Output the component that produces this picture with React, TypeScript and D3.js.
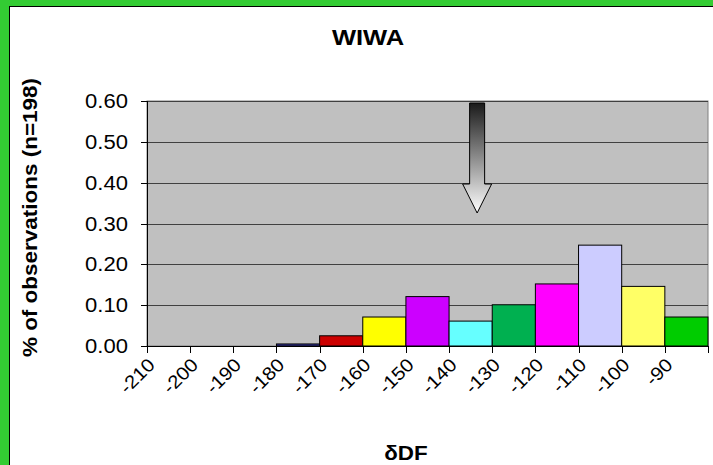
import React, { useEffect, useRef } from "react";
import * as d3 from "d3";

const binLabels = ["-210", "-200", "-190", "-180", "-170", "-160", "-150", "-140", "-130", "-120", "-110", "-100", "-90"];
const binStarts = [-210, -200, -190, -180, -170, -160, -150, -140, -130, -120, -110, -100, -90];
const values = [0, 0, 0, 0.005, 0.025, 0.071, 0.121, 0.061, 0.101, 0.152, 0.247, 0.146, 0.071];
const barColors = ["#333399", "#333399", "#333399", "#333399", "#CC0000", "#FFFF00", "#CC00FF", "#66FFFF", "#00B050", "#FF00FF", "#CCCCFF", "#FFFF66", "#00CC00"];
const yTicks = [0, 0.1, 0.2, 0.3, 0.4, 0.5, 0.6];
const arrowAt = -133.5;

const FONT = "Liberation Sans, Arial, sans-serif";

export default function App() {
  const ref = useRef<SVGSVGElement>(null);
  useEffect(() => {
    const svg = d3.select(ref.current);
    svg.selectAll("*").remove();
    const W = 713, H = 465;
    const L = 147, R = 708, T = 101, B = 346;
    const x = d3.scaleLinear().domain([-210, -80]).range([L, R]);
    const y = d3.scaleLinear().domain([0, 0.6]).range([B, T]);

    const defs = svg.append("defs");
    const grad = defs.append("linearGradient").attr("id", "ag").attr("x1", 0).attr("y1", 0).attr("x2", 0).attr("y2", 1);
    grad.append("stop").attr("offset", "0%").attr("stop-color", "#1a1a1a");
    grad.append("stop").attr("offset", "100%").attr("stop-color", "#ffffff");

    svg.append("rect").attr("x", 0).attr("y", 0).attr("width", W).attr("height", H).attr("fill", "#fff");
    svg.append("rect").attr("x", 0).attr("y", 0).attr("width", W).attr("height", 6).attr("fill", "#33CC33");
    svg.append("rect").attr("x", 0).attr("y", 0).attr("width", 9).attr("height", H).attr("fill", "#33CC33");
    svg.append("line").attr("x1", 9.5).attr("x2", 9.5).attr("y1", 6).attr("y2", H).attr("stroke", "#000");
    svg.append("line").attr("x1", 9).attr("x2", W).attr("y1", 6.5).attr("y2", 6.5).attr("stroke", "#000");

    // plot area
    svg.append("rect").attr("x", L).attr("y", T).attr("width", R - L).attr("height", B - T)
      .attr("fill", "#C0C0C0").attr("stroke", "#808080").attr("stroke-width", 1);

    // gridlines
    svg.append("g").selectAll("line").data(yTicks.filter(d => d > 0)).join("line")
      .attr("x1", L).attr("x2", R)
      .attr("y1", d => Math.round(y(d)) + 0.5).attr("y2", d => Math.round(y(d)) + 0.5)
      .attr("stroke", "#404040").attr("stroke-width", 1);

    // bars
    svg.append("g").selectAll("rect").data(values.map((v, i) => ({ v, s: binStarts[i], c: barColors[i] })).filter(d => d.v > 0))
      .join("rect")
      .attr("x", d => x(d.s)).attr("width", d => x(d.s + 10) - x(d.s))
      .attr("y", d => y(d.v)).attr("height", d => y(0) - y(d.v))
      .attr("fill", d => d.c).attr("stroke", "#000").attr("stroke-width", 1);

    // y axis
    const ya = svg.append("g");
    ya.append("line").attr("x1", L + 0.5).attr("x2", L + 0.5).attr("y1", T).attr("y2", B).attr("stroke", "#000");
    ya.selectAll("line.t").data(yTicks).join("line").attr("class", "t")
      .attr("x1", L - 6).attr("x2", L)
      .attr("y1", d => Math.round(y(d)) + 0.5).attr("y2", d => Math.round(y(d)) + 0.5).attr("stroke", "#000");
    ya.selectAll("text").data(yTicks).join("text")
      .attr("transform", d => `translate(128,${y(d) + 7}) scale(1.13,1)`)
      .attr("text-anchor", "end").attr("font-family", FONT).attr("font-size", 19.5)
      .text(d => d3.format(".2f")(d));

    // x axis
    const xa = svg.append("g");
    xa.append("line").attr("x1", L).attr("x2", R).attr("y1", B + 0.5).attr("y2", B + 0.5).attr("stroke", "#000");
    const tickVals = binStarts.concat([-80]);
    xa.selectAll("line.t").data(tickVals).join("line").attr("class", "t")
      .attr("x1", d => Math.round(x(d)) + 0.5).attr("x2", d => Math.round(x(d)) + 0.5)
      .attr("y1", B).attr("y2", B + 7).attr("stroke", "#000");
    xa.selectAll("text").data(binLabels).join("text")
      .attr("transform", (d, i) => `translate(${x(binStarts[i]) + 9},${B + 20}) rotate(-45) scale(1.1,1)`)
      .attr("text-anchor", "end")
      .attr("font-family", FONT).attr("font-size", 18.5)
      .text(d => d);

    // arrow
    const ax = x(arrowAt);
    const aTop = 103, aNeck = 184, aTip = 213, sw = 7.5, hw = 14.5;
    const pts: [number, number][] = [
      [ax - sw, aTop], [ax + sw, aTop], [ax + sw, aNeck], [ax + hw, aNeck], [ax, aTip], [ax - hw, aNeck], [ax - sw, aNeck]
    ];
    svg.append("path").attr("d", d3.line()(pts) + "Z")
      .attr("fill", "url(#ag)").attr("stroke", "#000").attr("stroke-width", 1);

    // titles
    svg.append("text").attr("transform", "translate(368,45) scale(1.16,1)").attr("text-anchor", "middle")
      .attr("font-family", FONT).attr("font-weight", "bold").attr("font-size", 22)
      .text("WIWA");
    svg.append("text").attr("transform", `translate(37,217.5) rotate(-90) scale(1.125,1)`).attr("text-anchor", "middle")
      .attr("font-family", FONT).attr("font-weight", "bold").attr("font-size", 20)
      .text("% of observations (n=198)");
    svg.append("text").attr("transform", "translate(406,460) scale(1.12,1)").attr("text-anchor", "middle")
      .attr("font-family", FONT).attr("font-weight", "bold").attr("font-size", 20)
      .text("δDF");
  }, []);
  return (
    <div style={{ position: "fixed", left: 0, top: 0, width: 713, height: 465, overflow: "hidden", background: "#fff" }}>
      <svg ref={ref} width={713} height={465} style={{ display: "block" }} />
    </div>
  );
}
